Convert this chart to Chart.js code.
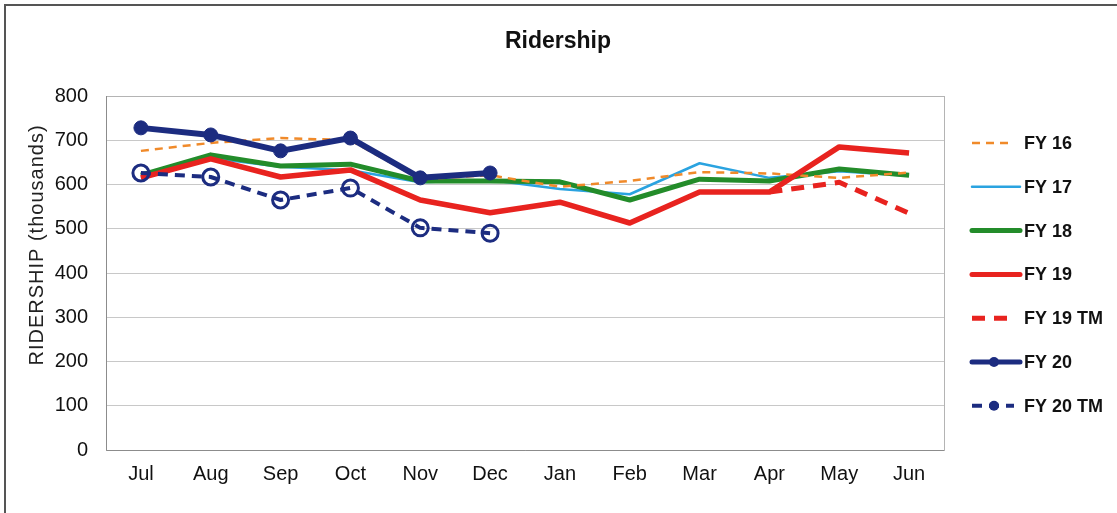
<!DOCTYPE html>
<html>
<head>
<meta charset="utf-8">
<title>Ridership</title>
<script src="https://cdn.jsdelivr.net/npm/chart.js@4.4.1/dist/chart.umd.min.js"></script>
<style>
    html, body { margin: 0; padding: 0; background: #fff; }
    canvas { display: block; }
</style>
</head>
<body>
<canvas id="ridershipChart" width="1117" height="513"></canvas>
<script>
// Months of the fiscal year
const months = ['Jul', 'Aug', 'Sep', 'Oct', 'Nov', 'Dec', 'Jan', 'Feb', 'Mar', 'Apr', 'May', 'Jun'];

// Monthly ridership in thousands
const fy16 = [676, 694, 705, 700, 612, 621, 595, 608, 628, 625, 615, 627];
const fy17 = [615, 660, 640, 632, 605, 610, 590, 578, 648, 615, 630, 620];
const fy18 = [621, 667, 642, 646, 608, 608, 606, 565, 612, 608, 635, 621];
const fy19 = [615, 658, 617, 633, 565, 536, 560, 513, 583, 583, 685, 671];
const fy19tm = [null, null, null, null, null, null, null, null, null, 583, 605, 535];
const fy20 = [728, 712, 676, 705, 615, 626, null, null, null, null, null, null];
const fy20tm = [626, 617, 565, 592, 502, 490, null, null, null, null, null, null];

const yTicks = [0, 100, 200, 300, 400, 500, 600, 700, 800];

const NAVY = '#1c2c80';
const RED = '#e8231f';
const GREEN = '#238c2a';
const LIGHT_BLUE = '#2aa3e0';
const ORANGE = '#f08a2a';

const FONT = '"Liberation Sans", Arial, sans-serif';

// Lower `order` is drawn on top
const datasets = [
    { label: 'FY 16', data: fy16, borderColor: ORANGE, borderWidth: 2.5, borderDash: [8, 6], order: 4 },
    { label: 'FY 17', data: fy17, borderColor: LIGHT_BLUE, borderWidth: 2.5, order: 6 },
    { label: 'FY 18', data: fy18, borderColor: GREEN, borderWidth: 5, order: 5 },
    { label: 'FY 19', data: fy19, borderColor: RED, borderWidth: 5.5, order: 3 },
    { label: 'FY 19 TM', data: fy19tm, borderColor: RED, borderWidth: 5, borderDash: [13, 9], order: 2 },
    { label: 'FY 20', data: fy20, borderColor: NAVY, borderWidth: 6, order: 0,
      pointRadius: 7, pointBackgroundColor: NAVY, pointBorderColor: NAVY, pointBorderWidth: 1 },
    { label: 'FY 20 TM', data: fy20tm, borderColor: NAVY, borderWidth: 4, borderDash: [10, 7], order: 1,
      pointRadius: 8, pointBackgroundColor: 'rgba(255,255,255,0)', pointBorderColor: NAVY, pointBorderWidth: 3 }
];

datasets.forEach(ds => {
    ds.fill = false;
    ds.tension = 0;
    ds.spanGaps = false;
    ds.borderJoinStyle = 'round';
    if (ds.pointRadius === undefined) ds.pointRadius = 0;
});

// Frame, title, rotated axis title, plot border and the right-hand legend
const decorations = {
    id: 'decorations',
    beforeDatasetsDraw(chart) {
        const { ctx, chartArea: a } = chart;
        ctx.save();
        ctx.strokeStyle = '#b4b4b4';
        ctx.lineWidth = 1;
        ctx.strokeRect(a.left + 0.5, a.top + 0.5, a.right - a.left, a.bottom - a.top);
        ctx.strokeStyle = '#8c8c8c';
        ctx.beginPath();
        ctx.moveTo(a.left + 0.5, a.top);
        ctx.lineTo(a.left + 0.5, a.bottom + 0.5);
        ctx.lineTo(a.right, a.bottom + 0.5);
        ctx.stroke();
        ctx.restore();
    },
    afterDraw(chart) {
        const { ctx, width, height } = chart;
        ctx.save();

        // outer frame (top and left edges)
        ctx.fillStyle = '#555';
        ctx.fillRect(4, 4, width - 4, 2);
        ctx.fillRect(4, 4, 2, height - 4);

        // chart title
        ctx.fillStyle = '#111';
        ctx.font = 'bold 23px ' + FONT;
        ctx.textAlign = 'center';
        ctx.textBaseline = 'middle';
        ctx.fillText('Ridership', 558, 42);

        // y axis title
        ctx.save();
        ctx.translate(37, 245);
        ctx.rotate(-Math.PI / 2);
        ctx.font = '20px ' + FONT;
        ctx.letterSpacing = '1px';
        ctx.fillStyle = '#222';
        ctx.fillText('RIDERSHIP (thousands)', 0, 0);
        ctx.restore();

        // legend
        const x0 = 972, x1 = 1020, textX = 1024;
        const top = 143, step = 43.8;
        chart.data.datasets.forEach((ds, i) => {
            const y = top + i * step;
            ctx.save();
            ctx.strokeStyle = ds.borderColor;
            ctx.lineWidth = Math.min(ds.borderWidth, 5);
            ctx.setLineDash(ds.borderDash || []);
            ctx.lineCap = ds.borderDash ? 'butt' : 'round';
            ctx.beginPath();
            ctx.moveTo(x0, y);
            ctx.lineTo(ds.borderDash ? x1 - 6 : x1, y);
            ctx.stroke();
            if (ds.pointRadius > 0) {
                ctx.setLineDash([]);
                ctx.fillStyle = NAVY;
                ctx.beginPath();
                ctx.arc((x0 + x1) / 2 - 2, y, 5, 0, Math.PI * 2);
                ctx.fill();
            }
            ctx.restore();

            ctx.fillStyle = '#111';
            ctx.font = 'bold 18px ' + FONT;
            ctx.textAlign = 'left';
            ctx.textBaseline = 'middle';
            ctx.fillText(ds.label, textX, y + 1);
        });
        ctx.restore();
    }
};

const ctx = document.getElementById('ridershipChart').getContext('2d');
new Chart(ctx, {
    type: 'line',
    data: { labels: months, datasets: datasets },
    options: {
        responsive: false,
        animation: false,
        devicePixelRatio: 1,
        layout: { padding: { left: 0, right: 173, top: 96, bottom: 0 } },
        scales: {
            x: {
                type: 'category',
                offset: true,
                grid: { display: false, drawTicks: false },
                border: { display: false },
                ticks: { color: '#111', font: { family: FONT, size: 20 }, padding: 12, maxRotation: 0 },
                afterFit: scale => { scale.height = 63; }
            },
            y: {
                min: 0,
                max: 800,
                afterBuildTicks: scale => { scale.ticks = yTicks.map(v => ({ value: v })); },
                grid: { color: '#c8c8c8', drawTicks: false },
                border: { display: false },
                ticks: { color: '#111', font: { family: FONT, size: 20 }, padding: 18 },
                afterFit: scale => { scale.width = 106; }
            }
        },
        plugins: {
            legend: { display: false },
            title: { display: false },
            tooltip: { enabled: false }
        }
    },
    plugins: [decorations]
});
</script>
</body>
</html>
